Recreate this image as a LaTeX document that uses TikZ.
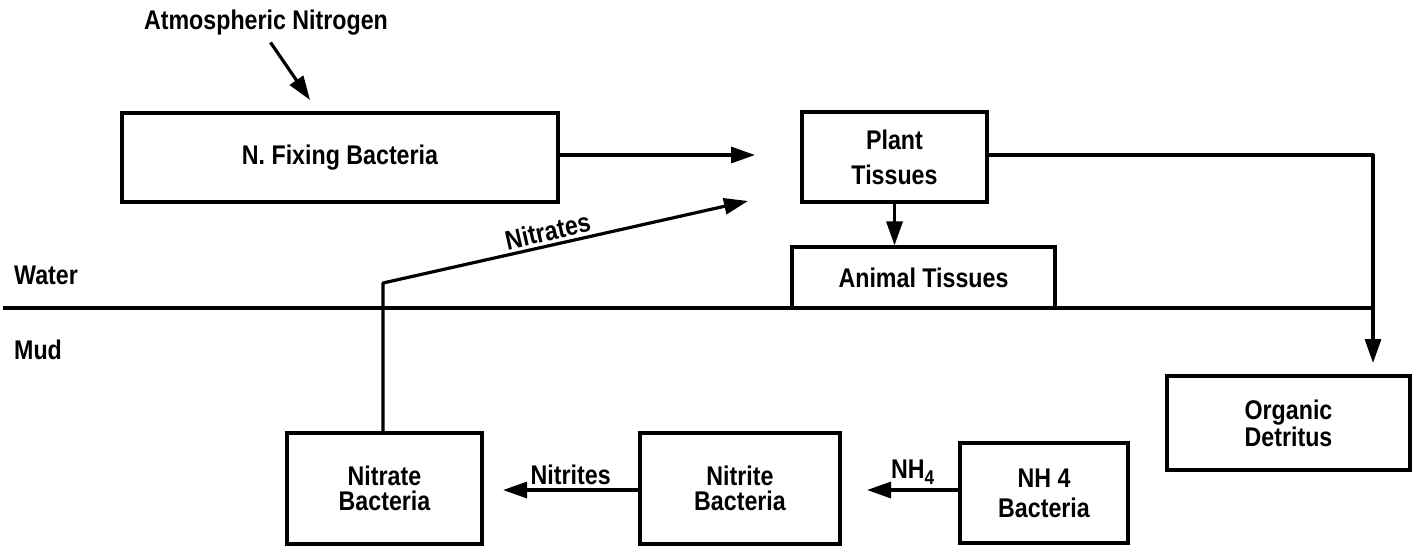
\documentclass[tikz,border=0pt]{standalone}
\usepackage{fontspec}
\setmainfont{Liberation Sans}[FakeStretch=0.86]
\usetikzlibrary{arrows.meta}
\newcommand\lblfont{\fontsize{27}{28}\selectfont\bfseries}
\begin{document}
\begin{tikzpicture}[x=1pt,y=-1pt,
  box/.style={draw, line width=3.2pt, inner sep=0pt, align=center, font=\lblfont},
  arr/.style={line width=3.2pt, line join=round, -{Triangle[length=24pt,width=16pt]}},
  lbl/.style={inner sep=0pt, font=\lblfont},
  ln/.style={line width=3.2pt, line join=round}]
\useasboundingbox (0,0) rectangle (1420,547);
% boxes
\node[box, minimum width=436pt, minimum height=89pt] (nfix) at (340,157.5) {N. Fixing Bacteria};
\node[box, minimum width=185pt, minimum height=90pt] (plant) at (894.5,157) {Plant\\[7pt]Tissues};
\node[box, minimum width=263pt, minimum height=61pt] (animal) at (923.5,277.5) {Animal Tissues};
\node[box, minimum width=243pt, minimum height=94pt] (detritus) at (1288.5,423) {Organic\\[-1pt]Detritus};
\node[box, minimum width=195pt, minimum height=111pt] (nitrate) at (384.5,488.5) {Nitrate\\[-3pt]Bacteria};
\node[box, minimum width=200pt, minimum height=111pt] (nitrite) at (740,488.5) {Nitrite\\[-3pt]Bacteria};
\node[box, minimum width=168pt, minimum height=100pt] (nh4) at (1044,493) {NH 4\\[2pt]Bacteria};
% labels
\node[lbl] (atm) at (266,23) {Atmospheric Nitrogen};
\node[lbl, anchor=west] (water) at (14,275) {Water};
\node[lbl, anchor=west] (mud) at (14,350) {Mud};
% coordinates
\coordinate (atmend) at (310,100);
\coordinate (tipA) at (755,155);
\coordinate (nc) at (383,283);
\coordinate (tipN) at (748,201);
\coordinate (tipD) at (1373,363);
\coordinate (tipNi) at (503,490);
\coordinate (tipNH) at (867,490);
\coordinate (wl) at (3,308);
\coordinate (wr) at (1373,308);
% water / mud line
\draw[ln] (wl) -- (wr);
% connectors
\draw[arr, shorten <=8pt] (atm.south) -- (atmend);
\draw[arr] (nfix.east |- tipA) -- (tipA);
\draw[arr] (nitrate.north -| nc) -- (nc) -- (tipN)
  node[pos=0.46, above=3pt, sloped, lbl] {Nitrates};
\draw[arr] (plant.south) -- (plant.south |- animal.north);
\draw[arr] (plant.east |- 0,155) -| (tipD);
\draw[arr] (nitrite.west |- tipNi) -- (tipNi)
  node[midway, above=4pt, lbl] {Nitrites};
\draw[arr] (nh4.west |- tipNH) -- (tipNH)
  node[midway, above=4pt, lbl] {NH\raisebox{-6pt}{\fontsize{20}{20}\selectfont 4}};
\end{tikzpicture}
\end{document}
